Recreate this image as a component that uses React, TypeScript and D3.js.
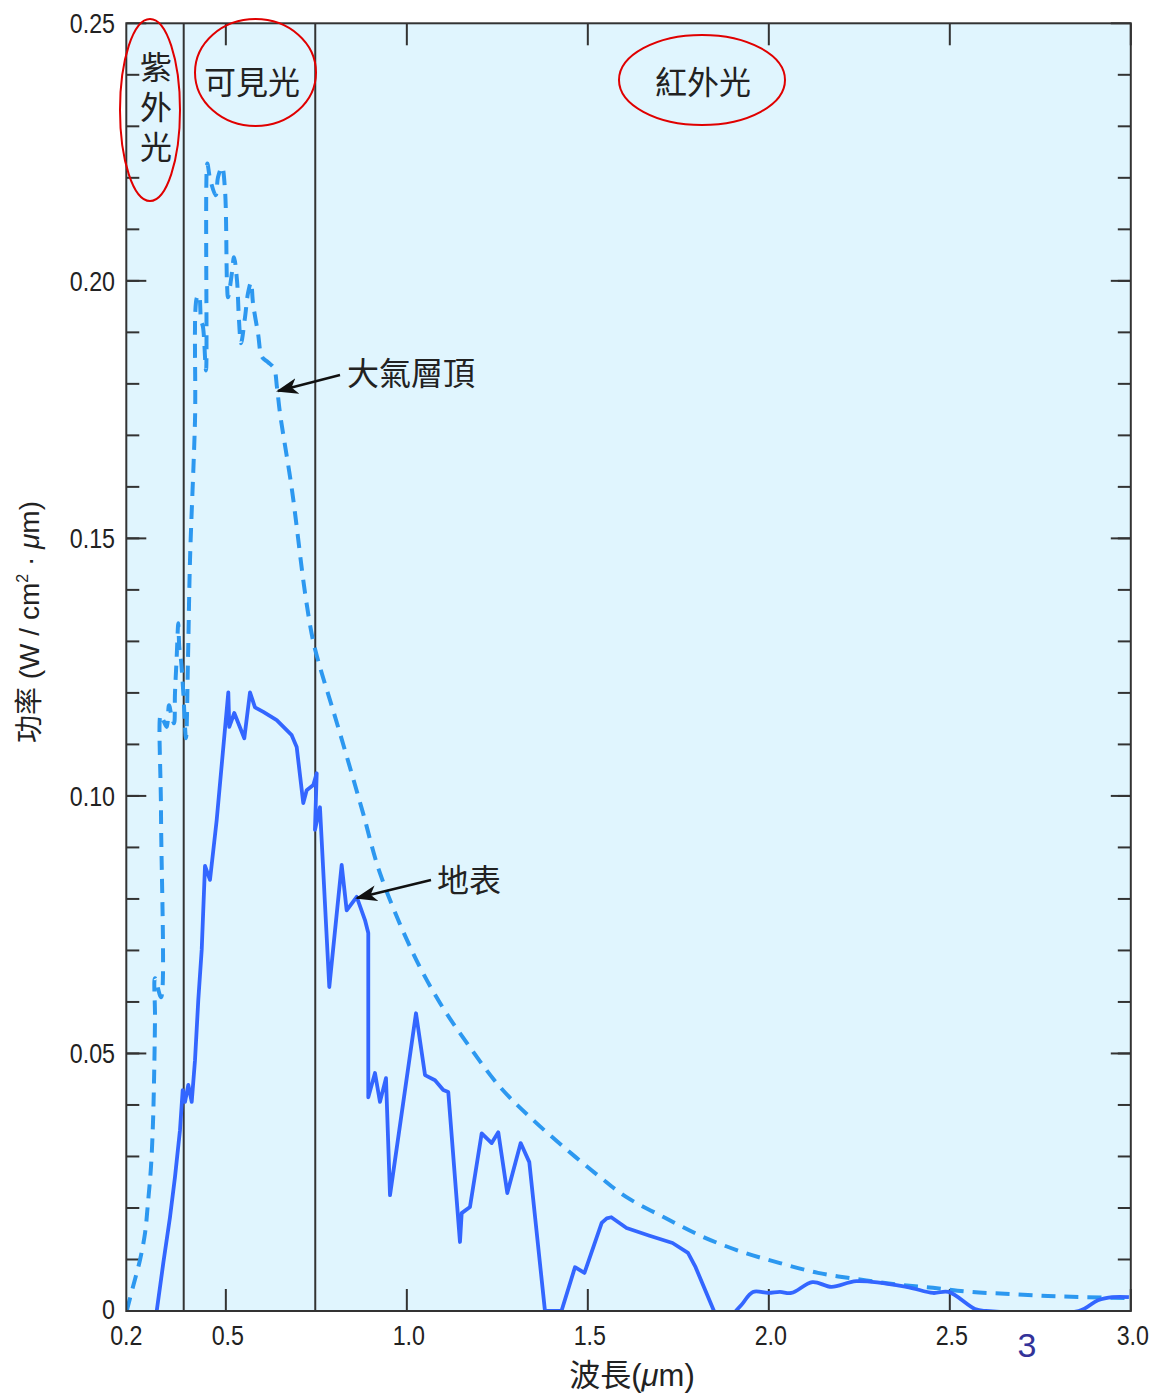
import React from "react";
import * as d3 from "d3";

const W = 1153;
const H = 1395;

// Solar spectral irradiance, wavelength in µm, power in W/(cm²·µm)
// Top of the atmosphere (dashed)
const toaWavelength = [
  0.2261, 0.2435, 0.2628, 0.2767, 0.2849, 0.2932, 0.2987, 0.3015, 0.3043, 0.3043,
  0.3209, 0.3209, 0.3200, 0.3272, 0.3366, 0.343, 0.3504, 0.3568, 0.3595, 0.3642,
  0.3686, 0.3714, 0.3761, 0.3825, 0.3899, 0.3954, 0.401, 0.4148, 0.4203, 0.4258,
  0.4314, 0.4369, 0.4452, 0.4488, 0.4562, 0.472, 0.4783, 0.4894, 0.4977, 0.5032,
  0.506, 0.517, 0.5225, 0.5308, 0.5363, 0.5419, 0.5529, 0.5612, 0.5695, 0.575,
  0.5889, 0.5999, 0.6165, 0.633, 0.6413, 0.6496, 0.6827, 0.7188, 0.7408, 0.7601,
  0.796, 0.8347, 0.8789, 0.9258, 1.017, 1.0916, 1.1662, 1.2573, 1.3485, 1.4424,
  1.5336, 1.607, 1.7131, 1.8181, 1.9247, 2.0308, 2.1357, 2.2421, 2.3485, 2.4535,
  2.5585, 2.6662, 2.7712, 2.8762, 2.995,
];
const toaPower = [
  0.0, 0.0047, 0.0099, 0.0151, 0.021, 0.028, 0.0365, 0.0443, 0.0571, 0.0646,
  0.0609, 0.0967, 0.1157, 0.1147, 0.1134, 0.1176, 0.1153, 0.1141, 0.12, 0.1269,
  0.1335, 0.1289, 0.1264, 0.12, 0.1112, 0.1264, 0.1458, 0.1729, 0.1968, 0.1972,
  0.1924, 0.191, 0.1826, 0.2228, 0.2199, 0.2166, 0.2201, 0.2221, 0.2176, 0.1995,
  0.1968, 0.2017, 0.2046, 0.2001, 0.1924, 0.1879, 0.1929, 0.1976, 0.1997, 0.1957,
  0.1898, 0.1852, 0.1842, 0.183, 0.1793, 0.1743, 0.1594, 0.1394, 0.1302, 0.125,
  0.1167, 0.1075, 0.0967, 0.085, 0.0695, 0.0598, 0.052, 0.0435, 0.0371, 0.0313,
  0.026, 0.0221, 0.0181, 0.0144, 0.0115, 0.0093, 0.0074, 0.0062, 0.0052, 0.0045,
  0.0037, 0.0033, 0.0029, 0.0027, 0.0025,
];

// At the surface (solid), absorption bands included
const surfaceWavelength = [
  0.309, 0.3272, 0.3457, 0.3595, 0.3733, 0.3808, 0.3872, 0.3963, 0.4057, 0.4148,
  0.4239, 0.4333, 0.4424, 0.4562, 0.4747, 0.5068, 0.5095, 0.5233, 0.551, 0.5667,
  0.5805, 0.6035, 0.6405, 0.6819, 0.6957, 0.7139, 0.7233, 0.7416, 0.751, 0.7462,
  0.76, 0.7858, 0.82, 0.8338, 0.8615, 0.8844, 0.8935, 0.8935, 0.912, 0.9258,
  0.9424, 0.9535, 1.0253, 1.0502, 1.0778, 1.1007, 1.1145, 1.1468, 1.1515, 1.1744,
  1.2068, 1.2344, 1.2526, 1.2775, 1.3145, 1.3383, 1.3816, 1.4272, 1.4645, 1.4907,
  1.5383, 1.5522, 1.5648, 1.607, 1.6706, 1.7341, 1.7767, 1.7977, 1.8485,
];
const surfacePower = [
  0.0, 0.0093, 0.0182, 0.026, 0.0351, 0.0429, 0.0406, 0.0439, 0.0406, 0.0487,
  0.0604, 0.0701, 0.0864, 0.0837, 0.0953, 0.1201, 0.1134, 0.1161, 0.1112, 0.1201,
  0.1172, 0.1163, 0.1147, 0.1118, 0.1095, 0.0986, 0.1011, 0.1021, 0.1044, 0.0934,
  0.0978, 0.0629, 0.0866, 0.0778, 0.0804, 0.0759, 0.0734, 0.0415, 0.0462, 0.0406,
  0.0452, 0.0225, 0.0578, 0.0458, 0.0448, 0.0429, 0.0425, 0.0134, 0.019, 0.0202,
  0.0345, 0.0326, 0.0347, 0.0229, 0.0326, 0.0289, 0.0, 0.0, 0.0085, 0.0074,
  0.0171, 0.018, 0.0182, 0.0161, 0.0146, 0.0132, 0.0113, 0.0085, 0.0,
];
// Far infrared part of the surface curve (smooth)
const surfaceTailWavelength = [
  1.9087, 1.9247, 1.9562, 1.9988, 2.0308, 2.0623, 2.1203, 2.1734, 2.2421, 2.3797,
  2.4535, 2.4963, 2.5695, 2.6, 2.8559, 2.9093, 2.9506, 2.9948,
];
const surfaceTailPower = [
  0.0, 0.0012, 0.0037, 0.0035, 0.0037, 0.0035, 0.0056, 0.0047, 0.0058, 0.0047,
  0.0035, 0.0037, 0.0004, 0.0, 0.0, 0.0021, 0.0027, 0.0027,
];

// Band boundaries (µm)
const uvLimit = 0.3836;
const visibleLimit = 0.747;

const xDomain = [0.225, 3.0];
const xStartLabel = "0.2";
const xTickValues = [0.5, 1.0, 1.5, 2.0, 2.5, 3.0];
const xTickLabels = ["0.5", "1.0", "1.5", "2.0", "2.5", "3.0"];
const yMajorValues = [0, 0.05, 0.1, 0.15, 0.2, 0.25];
const yMajorLabels = ["0", "0.05", "0.10", "0.15", "0.20", "0.25"];
const yMinorValues = d3.range(1, 25).map((i) => i / 100);

const numFont = "'Liberation Sans', Arial, sans-serif";
const cjkFont = "'Noto Sans CJK TC', 'Noto Sans CJK SC', sans-serif";
const narrow = 0.83;

// Condensed numeric label
function NumLabel(props: { x: number; y: number; anchor: string; text: string; size?: number }) {
  const { x, y, anchor, text, size = 28 } = props;
  return (
    <text
      transform={`translate(${x},${y}) scale(${narrow},1)`}
      textAnchor={anchor}
      dominantBaseline="central"
      fontFamily={numFont}
      fontSize={size}
      fill="#222"
    >
      {text}
    </text>
  );
}

export default function App() {
  const left = 126.3;
  const right = 1130.8;
  const top = 23.3;
  const bottom = 1311;

  const x = d3.scaleLinear().domain(xDomain).range([left, right]);
  const y = d3.scaleLinear().domain([0, 0.25]).range([bottom, top]);

  const toa = toaWavelength.map((w, i) => [x(w), y(toaPower[i])] as [number, number]);
  const surf = surfaceWavelength.map((w, i) => [x(w), y(surfacePower[i])] as [number, number]);
  const tail = surfaceTailWavelength.map((w, i) => [x(w), y(surfaceTailPower[i])] as [number, number]);

  const toaPath = d3.line().curve(d3.curveCatmullRom.alpha(0.5))(toa) || "";
  const surfPath = d3.line().curve(d3.curveLinear)(surf) || "";
  const tailPath = d3.line().curve(d3.curveCatmullRom.alpha(0.5))(tail) || "";

  const axisColor = "#333";

  return (
    <svg
      width={W}
      height={H}
      viewBox={`0 0 ${W} ${H}`}
      style={{ position: "absolute", left: 0, top: 0, background: "#fff" }}
    >
      <defs>
        <marker
          id="arrowHead"
          viewBox="0 0 22 16"
          refX="20"
          refY="8"
          markerWidth="22"
          markerHeight="16"
          markerUnits="userSpaceOnUse"
          orient="auto"
        >
          <path d="M22,8 L0,0 L6,8 L0,16 Z" fill="#111" />
        </marker>
        <clipPath id="plotClip">
          <rect x={left} y={top - 2} width={right - left} height={bottom - top + 2} />
        </clipPath>
      </defs>

      {/* plot background */}
      <rect x={left} y={top} width={right - left} height={bottom - top} fill="#E0F5FE" />

      {/* band boundaries */}
      {[uvLimit, visibleLimit].map((v) => (
        <line key={v} x1={x(v)} x2={x(v)} y1={top} y2={bottom} stroke={axisColor} strokeWidth={2} />
      ))}

      {/* y ticks, both sides, pointing inward */}
      {yMinorValues.map((v) => (
        <g key={"m" + v}>
          <line x1={left} x2={left + 13} y1={y(v)} y2={y(v)} stroke={axisColor} strokeWidth={2} />
          <line x1={right - 13} x2={right} y1={y(v)} y2={y(v)} stroke={axisColor} strokeWidth={2} />
        </g>
      ))}
      {yMajorValues.map((v) => (
        <g key={"M" + v}>
          <line x1={left} x2={left + 20} y1={y(v)} y2={y(v)} stroke={axisColor} strokeWidth={2} />
          <line x1={right - 20} x2={right} y1={y(v)} y2={y(v)} stroke={axisColor} strokeWidth={2} />
        </g>
      ))}

      {/* x ticks, top and bottom */}
      {xTickValues.map((v) => (
        <g key={"x" + v}>
          <line x1={x(v)} x2={x(v)} y1={bottom} y2={bottom - 22} stroke={axisColor} strokeWidth={2} />
          <line x1={x(v)} x2={x(v)} y1={top} y2={top + 22} stroke={axisColor} strokeWidth={2} />
        </g>
      ))}

      {/* spectra */}
      <g clipPath="url(#plotClip)">
        <path
          d={toaPath}
          fill="none"
          stroke="#2C98F0"
          strokeWidth={4}
          strokeDasharray="14 9"
          strokeLinejoin="round"
        />
        <path d={surfPath} fill="none" stroke="#3366FF" strokeWidth={3.8} strokeLinejoin="round" />
        <path d={tailPath} fill="none" stroke="#3366FF" strokeWidth={3.8} strokeLinejoin="round" />
      </g>

      {/* frame */}
      <rect
        x={left}
        y={top}
        width={right - left}
        height={bottom - top}
        fill="none"
        stroke={axisColor}
        strokeWidth={2}
      />

      {/* y tick labels */}
      {yMajorValues.map((v, i) => (
        <NumLabel key={"yl" + v} x={115} y={v === 0 ? y(v) - 2 : y(v)} anchor="end" text={yMajorLabels[i]} />
      ))}

      {/* x tick labels */}
      <NumLabel x={x(xDomain[0])} y={1335} anchor="middle" text={xStartLabel} />
      {xTickValues.map((v, i) => (
        <NumLabel key={"xl" + v} x={x(v) + 2} y={1335} anchor="middle" text={xTickLabels[i]} />
      ))}

      {/* axis titles */}
      <text x={632} y={1386} textAnchor="middle" fontSize={31} fill="#222">
        <tspan fontFamily={cjkFont}>波長</tspan>
        <tspan fontFamily={numFont}>(</tspan>
        <tspan fontFamily={numFont} fontStyle="italic">μ</tspan>
        <tspan fontFamily={numFont}>m)</tspan>
      </text>
      <text
        transform="translate(39,622) rotate(-90)"
        textAnchor="middle"
        fontSize={28}
        fill="#222"
      >
        <tspan fontFamily={cjkFont}>功率</tspan>
        <tspan fontFamily={numFont}> (W / cm</tspan>
        <tspan fontFamily={numFont} fontSize={16} dy={-11}>2</tspan>
        <tspan fontFamily={numFont} dy={11}> · </tspan>
        <tspan fontFamily={numFont} fontStyle="italic">μ</tspan>
        <tspan fontFamily={numFont}>m)</tspan>
      </text>

      {/* band labels */}
      <text
        x={156}
        y={111}
        textAnchor="middle"
        writingMode="vertical-rl"
        letterSpacing={8}
        fontFamily={cjkFont}
        fontSize={32}
        fill="#222"
      >
        紫外光
      </text>
      <text x={252} y={80} textAnchor="middle" dominantBaseline="central" fontFamily={cjkFont} fontSize={32} fill="#222">
        可見光
      </text>
      <text x={703} y={80} textAnchor="middle" dominantBaseline="central" fontFamily={cjkFont} fontSize={32} fill="#222">
        紅外光
      </text>
      <ellipse cx={150} cy={110} rx={30} ry={91} fill="none" stroke="#E00000" strokeWidth={2} />
      <ellipse cx={255.5} cy={72.5} rx={60.5} ry={53.5} fill="none" stroke="#E00000" strokeWidth={2} />
      <ellipse cx={702} cy={80} rx={83} ry={45} fill="none" stroke="#E00000" strokeWidth={2} />

      {/* curve annotations */}
      <line x1={340} y1={375} x2={278} y2={391} stroke="#111" strokeWidth={2.5} markerEnd="url(#arrowHead)" />
      <text x={347} y={371} dominantBaseline="central" fontFamily={cjkFont} fontSize={32} fill="#222">
        大氣層頂
      </text>
      <line x1={431} y1={880} x2={357} y2={898} stroke="#111" strokeWidth={2.5} markerEnd="url(#arrowHead)" />
      <text x={437} y={878} dominantBaseline="central" fontFamily={cjkFont} fontSize={32} fill="#222">
        地表
      </text>

      {/* page number */}
      <text x={1027} y={1345} textAnchor="middle" dominantBaseline="central" fontFamily={numFont} fontSize={34} fill="#333399">
        3
      </text>
    </svg>
  );
}
